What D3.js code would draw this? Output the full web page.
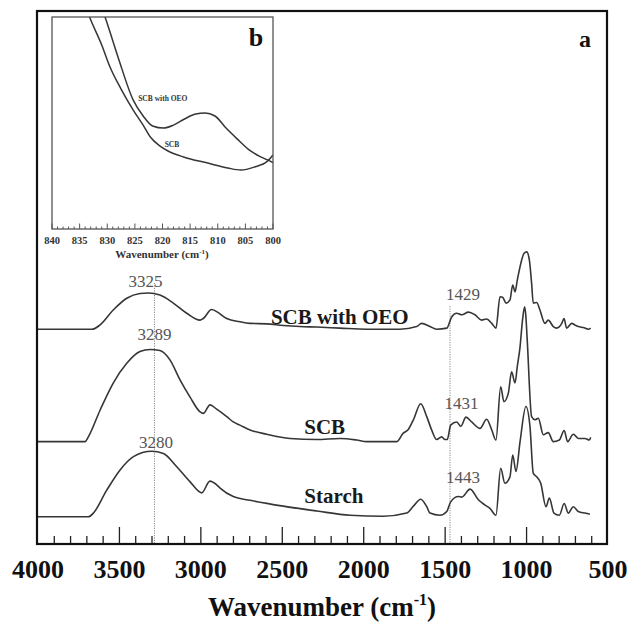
<!DOCTYPE html>
<html>
<head>
<meta charset="utf-8">
<script src="https://cdn.jsdelivr.net/npm/d3@7/dist/d3.min.js"></script>
<style>
  html, body { margin: 0; padding: 0; background: #fff; }
  svg { display: block; }
  text { font-family: "Liberation Serif", "Times New Roman", serif; }
</style>
</head>
<body>
<svg id="chart" width="630" height="623"></svg>
<script>
// FTIR spectra (wavenumber in cm-1, stacked intensity in arbitrary units)
const oeoWave = [4000,3668,3619,3538,3455,3374,3323,3251,3169,3087,3005,2985,2934,2903,2841,2760,2698,2596,2494,2391,2289,2146,1982,1777,1675,1644,1593,1552,1490,1460,1429,1398,1357,1317,1276,1245,1214,1188,1163,1147,1126,1102,1085,1071,1057,1030,1016,999,983,969,959,938,918,887,867,836,816,784,770,754,723,703,682,651,621,606];
const oeoValue = [40.3,40.3,41.1,43.9,46.1,47.0,47.1,46.7,45.2,43.3,42.0,42.3,44.0,43.6,42.3,41.7,41.4,41.3,41.0,40.8,40.7,40.5,40.3,40.3,40.8,41.4,40.8,40.3,40.5,42.6,43.3,43.0,43.5,43.0,42.0,42.2,41.4,40.5,46.4,46.3,45.2,45.8,48.6,47.3,49.5,53.3,54.5,54.8,53.3,48.9,45.2,45.3,43.9,41.4,42.0,40.8,40.5,41.4,42.3,40.5,41.4,41.1,40.8,40.6,40.3,40.5];

const scbWave = [4000,3711,3691,3619,3538,3455,3374,3312,3251,3189,3128,3067,3005,2985,2944,2903,2841,2801,2760,2698,2596,2453,2289,2146,2043,1982,1798,1757,1726,1695,1650,1613,1583,1552,1521,1501,1487,1466,1429,1404,1372,1337,1286,1245,1214,1188,1159,1139,1112,1092,1071,1057,1040,1025,1012,1005,996,969,948,928,897,867,836,799,769,748,713,682,641,615,606];
const scbValue = [19.2,19.2,20.1,25.1,30.2,33.9,36.1,36.5,36.3,34.5,30.8,27.6,24.8,24.5,26.1,25.3,23.9,22.9,22.3,21.4,20.6,19.8,19.6,19.8,19.5,19.2,19.2,20.8,21.5,23.3,26.3,23.9,21.4,19.6,20.1,19.6,19.6,22.3,22.9,22.1,23.8,22.9,21.7,23.4,21.4,19.5,29.5,26.7,28.3,32.3,30.2,33.3,37.0,42.0,44.5,43.0,38.3,23.9,23.3,23.6,20.5,20.9,19.2,19.5,21.3,19.2,20.6,19.8,19.8,19.5,20.0];

const starchWave = [4000,3691,3660,3578,3496,3414,3302,3230,3148,3067,2995,2944,2903,2882,2801,2698,2494,2289,2084,1880,1736,1695,1650,1613,1593,1532,1490,1466,1419,1398,1347,1296,1255,1225,1188,1159,1133,1102,1085,1065,1040,1004,979,959,938,913,881,860,832,799,769,744,713,682,641,611];
const starchValue = [5.1,5.1,5.8,10.1,13.9,16.4,17.4,17.0,14.5,11.7,9.6,11.8,11.1,10.5,8.9,8.2,7.1,6.2,5.4,5.2,5.8,7.1,8.4,7.0,5.8,5.4,6.1,7.9,8.9,8.8,10.3,8.3,7.3,6.7,5.4,14.2,11.4,12.6,16.7,13.6,19.2,25.8,22.0,13.3,12.6,11.4,7.0,8.6,5.8,5.4,7.6,5.8,7.0,6.1,5.8,5.6];

// Inset: 840-800 cm-1 region
const insetOeoWave = [831.8,830.4,828,825.3,823.5,821.8,819.8,818,816,814,812.3,810.5,808.5,806.5,804.5,802.5,801,800];
const insetOeoValue = [110,100,80.7,60.8,53.3,48.6,47.6,49,51.9,54.2,54.7,53.3,47.6,42.5,37.7,34.4,32.6,31.3];
const insetScbWave = [834.6,833.2,831,829.5,827.5,825.3,823.5,822.2,820.5,819,816.2,811.8,808.2,805.8,803.4,801,800];
const insetScbValue = [110,100,86.8,76.4,66,56.1,49,43.4,39.2,36.8,34,31.1,28.8,27.8,29.2,32,34.9];

// Labels
const xTicks = [4000,3500,3000,2500,2000,1500,1000,500];
const insetTicks = [840,835,830,825,820,815,810,805,800];
const seriesNames = ["SCB with OEO", "SCB", "Starch"];
const peakLabels = [
  {text: "3325", wave: 3340, value: 48.3},
  {text: "3289", wave: 3285, value: 38.3},
  {text: "3280", wave: 3275, value: 18.0},
  {text: "1429", wave: 1390, value: 45.7},
  {text: "1431", wave: 1400, value: 25.4},
  {text: "1443", wave: 1390, value: 11.5}
];
const markerLines = [3285, 1470];

const svg = d3.select("#chart");
const lineColor = "#363636";

// ---------- main panel ----------
const frame = {left: 37, right: 607, top: 11, bottom: 544};
const x = d3.scaleLinear().domain([4000, 500]).range([38, 608]);
const y = d3.scaleLinear().domain([0, 100]).range([frame.bottom, frame.top]);

// dotted marker lines
svg.selectAll("line.marker").data(markerLines).join("line")
  .attr("class", "marker")
  .attr("x1", d => x(d)).attr("x2", d => x(d))
  .attr("y1", (d, i) => i === 0 ? 283 : 306).attr("y2", frame.bottom)
  .attr("stroke", "#8a8a8a").attr("stroke-width", 1)
  .attr("stroke-dasharray", "1.2,1.2");

const line = d3.line().x(d => x(d[0])).y(d => y(d[1])).curve(d3.curveMonotoneX);
const spectra = [
  d3.zip(oeoWave, oeoValue),
  d3.zip(scbWave, scbValue),
  d3.zip(starchWave, starchValue)
];
svg.selectAll("path.spectrum").data(spectra).join("path")
  .attr("class", "spectrum")
  .attr("d", d => line(d))
  .attr("fill", "none").attr("stroke", lineColor)
  .attr("stroke-width", 1.6).attr("stroke-linejoin", "round");

// series names
const namePos = [
  {wave: 2570, value: 41.2},
  {wave: 2365, value: 20.6},
  {wave: 2365, value: 7.6}
];
svg.selectAll("text.name").data(seriesNames).join("text")
  .attr("class", "name")
  .attr("x", (d, i) => x(namePos[i].wave))
  .attr("y", (d, i) => y(namePos[i].value))
  .attr("font-size", 21).attr("font-weight", "bold").attr("fill", "#1a1a1a")
  .text(d => d);

// peak labels
svg.selectAll("text.peak").data(peakLabels).join("text")
  .attr("class", "peak")
  .attr("x", d => x(d.wave)).attr("y", d => y(d.value))
  .attr("text-anchor", "middle")
  .attr("font-size", 17).attr("fill", "#555")
  .text(d => d.text);

// ticks (inward), major every 500, minor every 100
const minor = d3.range(600, 4000, 100).filter(v => v % 500 !== 0);
svg.selectAll("line.minor").data(minor).join("line")
  .attr("class", "minor")
  .attr("x1", d => x(d)).attr("x2", d => x(d))
  .attr("y1", frame.bottom).attr("y2", frame.bottom - 8)
  .attr("stroke", "#222").attr("stroke-width", 1.3);
svg.selectAll("line.major").data(xTicks.filter(v => v > 500 && v < 4000)).join("line")
  .attr("class", "major")
  .attr("x1", d => x(d)).attr("x2", d => x(d))
  .attr("y1", frame.bottom).attr("y2", frame.bottom - 17)
  .attr("stroke", "#222").attr("stroke-width", 1.3);

svg.selectAll("text.xtick").data(xTicks).join("text")
  .attr("class", "xtick")
  .attr("x", d => x(d)).attr("y", 578)
  .attr("text-anchor", "middle")
  .attr("font-size", 26).attr("font-weight", "bold").attr("fill", "#111")
  .text(d => d);

const title = svg.append("text")
  .attr("x", 322).attr("y", 616)
  .attr("text-anchor", "middle")
  .attr("font-size", 27).attr("font-weight", "bold").attr("fill", "#111");
title.append("tspan").text("Wavenumber (cm");
title.append("tspan").attr("font-size", 16).attr("dy", -11).text("-1");
title.append("tspan").attr("dy", 11).text(")");

svg.append("rect")
  .attr("x", frame.left).attr("y", frame.top)
  .attr("width", frame.right - frame.left).attr("height", frame.bottom - frame.top)
  .attr("fill", "none").attr("stroke", "#111").attr("stroke-width", 2.2);

svg.append("text").attr("x", 585).attr("y", 47)
  .attr("text-anchor", "middle")
  .attr("font-size", 24).attr("font-weight", "bold").attr("fill", "#111")
  .text("a");

// ---------- inset panel ----------
const inset = {left: 52, right: 273, top: 17, bottom: 229};
const xi = d3.scaleLinear().domain([840, 800]).range([inset.left, inset.right]);
const yi = d3.scaleLinear().domain([0, 100]).range([inset.bottom, inset.top]);
const gInset = svg.append("g");
gInset.append("clipPath").attr("id", "insetClip")
  .append("rect").attr("x", inset.left).attr("y", inset.top)
  .attr("width", inset.right - inset.left).attr("height", inset.bottom - inset.top);

const iline = d3.line().x(d => xi(d[0])).y(d => yi(d[1])).curve(d3.curveMonotoneX);
gInset.append("g").attr("clip-path", "url(#insetClip)")
  .selectAll("path").data([d3.zip(insetOeoWave, insetOeoValue), d3.zip(insetScbWave, insetScbValue)])
  .join("path")
  .attr("d", d => iline(d))
  .attr("fill", "none").attr("stroke", lineColor).attr("stroke-width", 1.5);

gInset.append("text").attr("x", xi(824.4)).attr("y", yi(60.5))
  .attr("font-size", 7.5).attr("font-weight", "bold").attr("fill", "#333")
  .text(seriesNames[0]);
gInset.append("text").attr("x", xi(819.6)).attr("y", yi(38.7))
  .attr("font-size", 7.5).attr("font-weight", "bold").attr("fill", "#333")
  .text(seriesNames[1]);

const insetMinor = d3.range(801, 840, 1).filter(v => v % 5 !== 0);
gInset.selectAll("line.iminor").data(insetMinor).join("line")
  .attr("x1", d => xi(d)).attr("x2", d => xi(d))
  .attr("y1", inset.bottom).attr("y2", inset.bottom - 2.5)
  .attr("stroke", "#555").attr("stroke-width", 1);
gInset.selectAll("line.imajor").data(insetTicks).join("line")
  .attr("x1", d => xi(d)).attr("x2", d => xi(d))
  .attr("y1", inset.bottom).attr("y2", inset.bottom - 5.5)
  .attr("stroke", "#555").attr("stroke-width", 1);
gInset.selectAll("text.itick").data(insetTicks).join("text")
  .attr("x", d => xi(d)).attr("y", 244)
  .attr("text-anchor", "middle")
  .attr("font-size", 10.5).attr("font-weight", "bold").attr("fill", "#333")
  .text(d => d);
const ititle = gInset.append("text")
  .attr("x", 162).attr("y", 258)
  .attr("text-anchor", "middle")
  .attr("font-size", 11).attr("font-weight", "bold").attr("fill", "#333");
ititle.append("tspan").text("Wavenumber (cm");
ititle.append("tspan").attr("font-size", 7).attr("dy", -4).text("-1");
ititle.append("tspan").attr("dy", 4).text(")");

gInset.append("rect")
  .attr("x", inset.left).attr("y", inset.top)
  .attr("width", inset.right - inset.left).attr("height", inset.bottom - inset.top)
  .attr("fill", "none").attr("stroke", "#555").attr("stroke-width", 1.3);

gInset.append("text").attr("x", 256).attr("y", 46)
  .attr("text-anchor", "middle")
  .attr("font-size", 26).attr("font-weight", "bold").attr("fill", "#111")
  .text("b");
</script>
</body>
</html>
